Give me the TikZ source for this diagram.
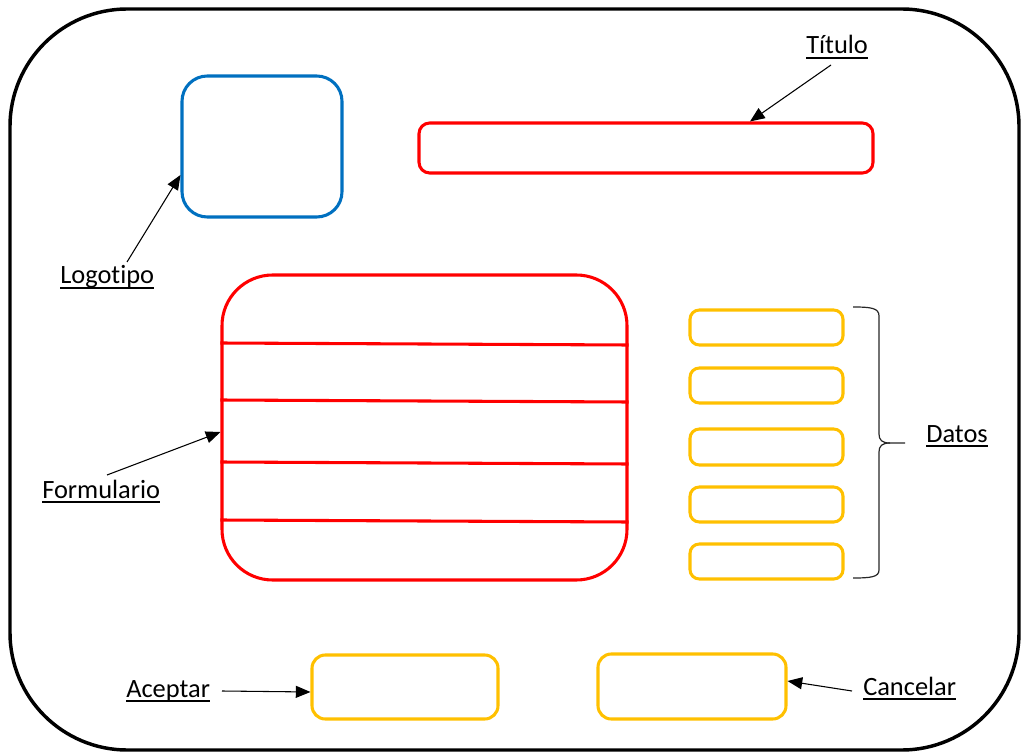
\documentclass[tikz,border=0pt]{standalone}
\usepackage{fontspec}
\setmainfont{Carlito}[Ligatures=NoCommon]
\usetikzlibrary{fit,arrows.meta}

\definecolor{frameblue}{HTML}{0070C0}
\definecolor{formred}{HTML}{FF0000}
\definecolor{fieldgold}{HTML}{FFC000}

% underlined label text, rule drawn just below the baseline
\newcommand{\ulabel}[1]{\setbox0\hbox{#1}\rlap{\rule[-3.9pt]{\wd0}{1.4pt}}\box0}

\begin{document}
\begin{tikzpicture}[x=0.75pt,y=-0.75pt,
  box/.style={draw,line width=2.3pt,inner sep=0pt},
  lbl/.style={anchor=base west,inner sep=0pt,font=\fontsize{19.8pt}{24pt}\selectfont},
  arr/.style={line width=0.8pt,-{Triangle[length=11pt,width=9pt]}},
  formline/.style={formred,line width=2.3pt},
  bracepen/.style={line width=0.9pt,black!85}]

\useasboundingbox (0,0) rectangle (1021,752);

% outer screen frame
\node[box,fit={(10,9) (1019,750)},line width=2.6pt,rounded corners=88pt] (screen) {};

% logo and title
\node[box,fit={(182,76) (342,217)},draw=frameblue,rounded corners=19pt] (logo) {};
\node[box,fit={(419,123) (873,173)},draw=formred,rounded corners=8pt] (titulo) {};

% form block with its row separators
\node[box,fit={(222,275) (627,580)},draw=formred,rounded corners=38pt] (form) {};
\draw[formline] (form.west |- 0,343) -- (form.east |- 0,345);
\draw[formline] (form.west |- 0,400) -- (form.east |- 0,402);
\draw[formline] (form.west |- 0,462) -- (form.east |- 0,464);
\draw[formline] (form.west |- 0,520) -- (form.east |- 0,522);

% data fields
\foreach \n/\ya/\yb in {1/310/345, 2/368/403, 3/429/465, 4/487/522, 5/544/579}
  \node[box,fit={(690,\ya) (843,\yb)},draw=fieldgold,rounded corners=7pt] (dato\n) {};

% buttons
\node[box,fit={(312,655) (498,719)},draw=fieldgold,rounded corners=10pt] (aceptar) {};
\node[box,fit={(598,654) (786,719)},draw=fieldgold,rounded corners=10pt] (cancelar) {};

% brace grouping the data fields
\draw[bracepen] (853,307) .. controls (871,307) and (879,308) .. (879,316)
  -- (879,434) .. controls (879,440) and (882,443) .. (890,443) -- (905,443);
\draw[bracepen] (890,443) .. controls (882,443) and (879,446) .. (879,452)
  -- (879,570) .. controls (879,577) and (871,578) .. (853,578);

% labels
\node[lbl] (lTitulo) at (806,54) {\ulabel{Título}};
\node[lbl] (lLogo) at (60,284) {\ulabel{Logotipo}};
\node[lbl] (lForm) at (42,498) {\ulabel{Formulario}};
\node[lbl] (lDatos) at (926,442) {\ulabel{Datos}};
\node[lbl] (lAceptar) at (126,697) {\ulabel{Aceptar}};
\node[lbl] (lCancelar) at (863,695) {\ulabel{Cancelar}};

% pointers from labels to their elements
\coordinate (aTitulo) at (831,65);
\coordinate (aLogo) at (127,262);
\coordinate (aForm) at (107,475);
\coordinate (aAceptar) at (222,691);
\coordinate (aCancelar) at (852,691);

\draw[arr] (aTitulo) -- (titulo.north -| 750,0);
\draw[arr] (aLogo) -- (logo.west |- 0,175);
\draw[arr] (aForm) -- (form.west |- 0,432);
\draw[arr] (aAceptar) -- (aceptar.west |- 0,692);
\draw[arr] (aCancelar) -- (cancelar.east |- 0,681);
\end{tikzpicture}
\end{document}
